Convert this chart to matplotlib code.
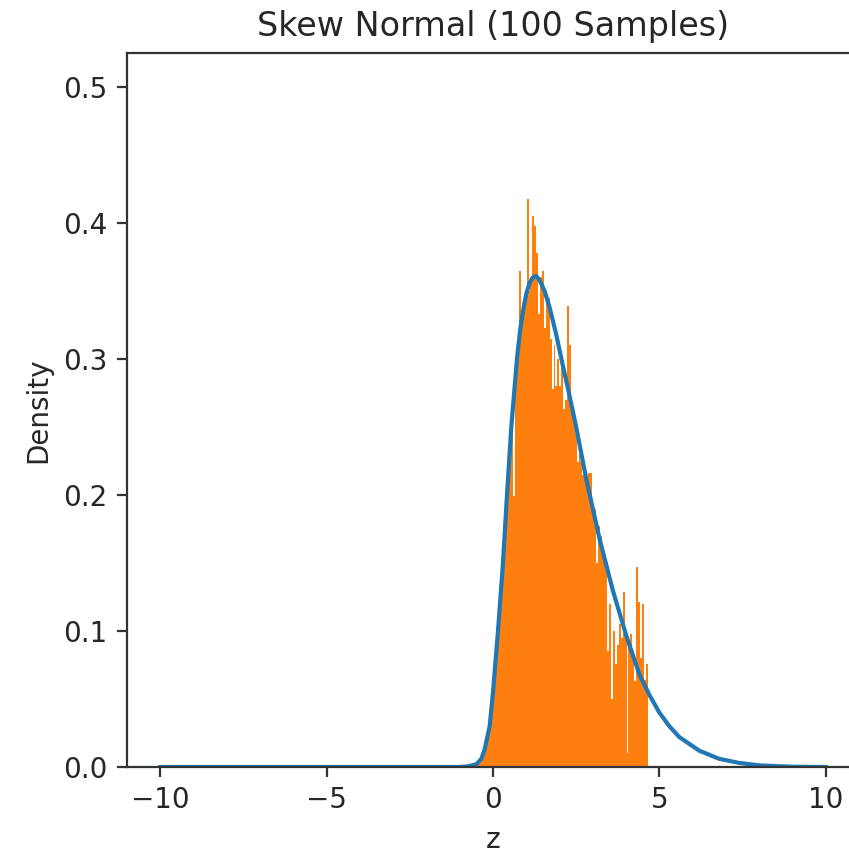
import numpy as np
import matplotlib
matplotlib.use('Agg')
import matplotlib.pyplot as plt

# ── Data ───────────────────────────────────────────────────────────────────────
# histogram: 90 equal bins between these edges, density per bin
BIN_LO, BIN_HI, N_BINS = -0.55, 4.65, 90
bar_heights = [
    0.003, 0.004, 0.006, 0.008, 0.011, 0.016, 0.024, 0.034, 0.045, 0.056,
    0.072, 0.088, 0.106, 0.128, 0.146, 0.170, 0.192, 0.213, 0.238, 0.255,
    0.199, 0.301, 0.300, 0.365, 0.325, 0.335, 0.345, 0.418, 0.350, 0.360,
    0.405, 0.398, 0.378, 0.333, 0.360, 0.365, 0.323, 0.348, 0.345, 0.315,
    0.278, 0.310, 0.280, 0.300, 0.280, 0.295, 0.263, 0.270, 0.339, 0.310,
    0.262, 0.255, 0.245, 0.224, 0.230, 0.225, 0.215, 0.220, 0.205, 0.216,
    0.216, 0.185, 0.190, 0.150, 0.177, 0.170, 0.161, 0.158, 0.145, 0.085,
    0.120, 0.050, 0.100, 0.076, 0.090, 0.105, 0.095, 0.129, 0.100, 0.010,
    0.091, 0.098, 0.085, 0.063, 0.147, 0.121, 0.080, 0.120, 0.064, 0.076,
]

# pdf curve
curve_z = [-10, -1, -0.75, -0.5, -0.35, -0.25, -0.1, 0, 0.15, 0.3, 0.42, 0.55,
           0.72, 0.82, 0.9, 1.0, 1.1, 1.2, 1.3, 1.4, 1.55, 1.7, 1.9, 2.1, 2.3,
           2.5, 2.8, 3.2, 3.6, 4.0, 4.4, 4.7, 5.0, 5.3, 5.6, 6.2, 6.8, 7.4,
           8.0, 9.0, 10]
curve_p = [0, 0, 0.0005, 0.002, 0.006, 0.013, 0.03, 0.055, 0.10, 0.15, 0.20, 0.25,
           0.30, 0.322, 0.335, 0.348, 0.356, 0.360, 0.361, 0.358, 0.350, 0.338,
           0.318, 0.295, 0.273, 0.25, 0.212, 0.168, 0.130, 0.097, 0.068, 0.053,
           0.040, 0.030, 0.022, 0.012, 0.006, 0.003, 0.0012, 0.0002, 0]

# ── Plot ───────────────────────────────────────────────────────────────────────
fig = plt.figure(figsize=(849 / 200, 855 / 200), dpi=200)
ax = fig.add_axes([127 / 849, 88 / 855, 732 / 849, 714 / 855])

edges = np.linspace(BIN_LO, BIN_HI, N_BINS + 1)
ax.bar(edges[:-1], bar_heights, width=np.diff(edges), align='edge',
       color='tab:orange', linewidth=0)
ax.plot(curve_z, curve_p, color='tab:blue', linewidth=1.5)

ax.set_xlim(-11, 11)
ax.set_ylim(0, 0.525)
ax.set_xticks([-10, -5, 0, 5, 10])
ax.set_yticks([0.0, 0.1, 0.2, 0.3, 0.4, 0.5])
ax.tick_params(colors='#333333', labelcolor='#262626')
for spine in ax.spines.values():
    spine.set_edgecolor('#333333')
ax.set_title("Skew Normal (100 Samples)", fontsize=12, color='#262626')
ax.set_xlabel("z", color='#262626')
ax.set_ylabel("Density", color='#262626')

fig.savefig("out.png", dpi=200)
